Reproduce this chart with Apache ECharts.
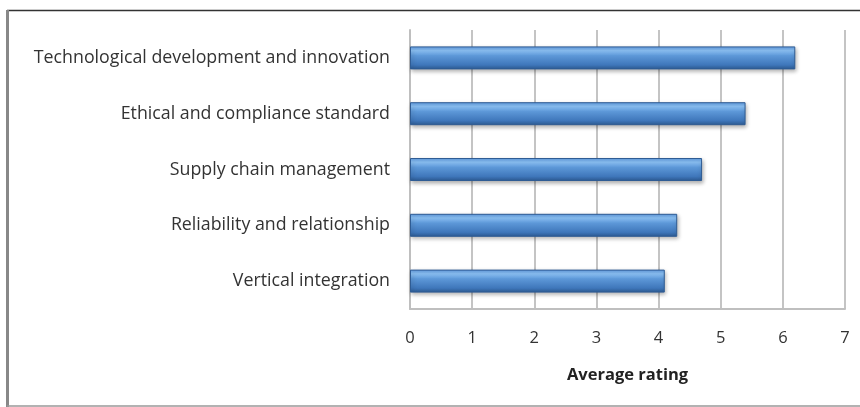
<!DOCTYPE html>
<html>
<head>
<meta charset="utf-8">
<script src="https://cdn.jsdelivr.net/npm/echarts@6/dist/echarts.min.js"></script>
<style>
html,body{margin:0;padding:0;background:#fff;}
#chart{width:860px;height:407px;}
</style>
</head>
<body>
<div id="chart"></div>
<script>
// Factors, listed bottom to top as drawn on the category axis
const categories = [
  'Vertical integration',
  'Reliability and relationship',
  'Supply chain management',
  'Ethical and compliance standard',
  'Technological development and innovation'
];
const ratings = [4.1, 4.3, 4.7, 5.4, 6.2];
const xTicks = { min: 0, max: 7, interval: 1 };

const chart = echarts.init(document.getElementById('chart'));
const font = 'Open Sans, Liberation Sans, sans-serif';

chart.setOption({
  animation: false,
  grid: { left: 410, right: 15, top: 30, bottom: 98 },
  xAxis: {
    type: 'value',
    min: xTicks.min, max: xTicks.max, interval: xTicks.interval,
    name: 'Average rating',
    nameLocation: 'middle',
    nameGap: 58,
    nameTextStyle: { fontFamily: font, fontSize: 16.5, fontWeight: 'bold', color: '#222' },
    axisLine: { show: true, lineStyle: { color: '#bfbfbf', width: 2 } },
    axisTick: { show: false },
    axisLabel: { fontFamily: font, fontSize: 16.5, color: '#333', margin: 21 },
    splitLine: { show: true, lineStyle: { color: '#c4c4c4', width: 2 } }
  },
  yAxis: {
    type: 'category',
    data: categories,
    axisLine: { show: true, lineStyle: { color: '#bfbfbf', width: 2 } },
    axisTick: { show: false },
    axisLabel: { fontFamily: font, fontSize: 17.8, color: '#333', margin: 20 }
  },
  series: [{
    type: 'bar',
    data: ratings,
    barWidth: 23,
    itemStyle: {
      color: new echarts.graphic.LinearGradient(0, 0, 0, 1, [
        { offset: 0, color: '#5f9ae0' },
        { offset: 0.18, color: '#8cc2f6' },
        { offset: 0.4, color: '#5d98d8' },
        { offset: 0.8, color: '#3f77bb' },
        { offset: 1, color: '#2c5a92' }
      ]),
      borderColor: '#2f5c94',
      borderWidth: 1,
      shadowColor: 'rgba(0,0,0,0.3)',
      shadowBlur: 4,
      shadowOffsetX: 1,
      shadowOffsetY: 2
    }
  }],
  graphic: [
    { type: 'line', shape: { x1: 7, y1: 10.5, x2: 860, y2: 10.5 }, style: { stroke: '#333', lineWidth: 1.5 } },
    { type: 'line', shape: { x1: 7.5, y1: 10, x2: 7.5, y2: 407 }, style: { stroke: '#888', lineWidth: 3 } },
    { type: 'line', shape: { x1: 7, y1: 406, x2: 860, y2: 406 }, style: { stroke: '#999', lineWidth: 1.5 } }
  ]
});
</script>
</body>
</html>
